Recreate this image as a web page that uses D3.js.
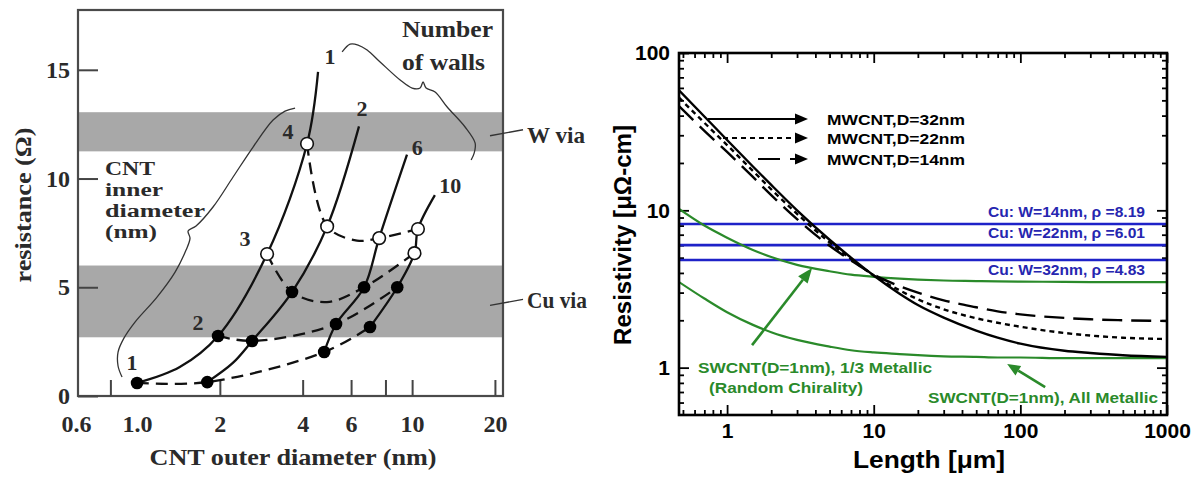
<!DOCTYPE html>
<html><head><meta charset="utf-8">
<script src="https://cdn.jsdelivr.net/npm/d3@7"></script>
<style>body{margin:0;background:#fff}</style>
</head><body><svg id="c" width="1200" height="477"></svg>
<script>
// ================= LEFT PANEL DATA (x: CNT outer diameter nm, y: resistance Ohm) =================
const leftYTicks = [0, 5, 10, 15];
const leftXLabelVals = [0.6, 1.0, 2, 4, 6, 10, 20];
const leftXLabelText = ["0.6", "1.0", "2", "4", "6", "10", "20"];
const leftXTickMarks = [0.8, 2, 4, 6, 8, 10, 20];
const bandW = [11.25, 13.05];
const bandCu = [2.7, 6.0];
// solid curves: constant number of walls
const wall1 = [[1.0,0.6],[1.43,1.33],[1.97,2.76],[2.97,6.53],[4.15,11.6],[4.55,14.9]];
const wall2 = [[1.8,0.64],[2.23,1.52],[2.62,2.53],[3.66,4.78],[4.91,7.8],[6.41,12.4]];
const wall6 = [[4.79,2.02],[5.29,3.31],[6.69,5.0],[7.59,7.26],[9.58,11.1]];
const wall10 = [[7.03,3.17],[8.83,5.0],[10.2,6.57],[10.5,7.68],[12.1,9.24]];
// dashed curves: constant inner diameter
const inner1 = [[1.0,0.6],[1.8,0.64],[4.79,2.02],[7.03,3.17]];
const inner2 = [[1.97,2.76],[2.62,2.53],[5.29,3.31],[8.83,5.0]];
const inner3 = [[2.97,6.53],[3.66,4.78],[4.9,4.32],[6.69,5.0],[10.2,6.57]];
const inner4 = [[4.15,11.6],[4.91,7.8],[6.3,7.15],[7.59,7.26],[10.5,7.68]];
const filledPts = [[1.0,0.6],[1.97,2.76],[1.8,0.64],[2.62,2.53],[3.66,4.78],[4.79,2.02],[5.29,3.31],[6.69,5.0],[7.03,3.17],[8.83,5.0]];
const openPts = [[2.97,6.53],[4.15,11.6],[4.91,7.8],[7.59,7.26],[10.2,6.57],[10.5,7.68]];
const wallLabels = [["1",5.03,15.59],["2",6.58,13.24],["6",10.43,11.45],["10",13.75,9.70]];
const innerLabels = [["1",0.959,1.56],["2",1.666,3.36],["3",2.47,7.26],["4",3.54,12.14]];
const braceInner = [[0.882,0.87],[0.853,1.38],[0.853,2.02],[0.897,2.67],[0.983,3.40],[1.182,4.55],[1.375,5.70],[1.507,6.71],[1.558,7.26],[1.533,7.59],[1.639,7.82],[1.889,8.69],[2.234,10.07],[2.641,11.45],[3.123,12.69],[3.452,13.10],[3.754,13.24]];
const braceWalls = [[5.566,15.82],[5.951,16.18],[6.364,16.14],[6.862,15.91],[7.65,15.36],[9.046,14.53],[10.0,14.16],[10.69,14.16],[10.96,14.44],[11.24,14.16],[12.12,13.98],[13.41,13.29],[15.58,12.37],[16.95,11.63],[16.81,11.17],[16.39,10.85]];

// ================= RIGHT PANEL DATA (x: length um, y: resistivity uOhm-cm) =================
const lengthTicks = [1, 10, 100, 1000];
const lengthMinor = [0.5,0.6,0.7,0.8,0.9,2,3,4,5,6,7,8,9,20,30,40,50,60,70,80,90,200,300,400,500,600,700,800,900];
const rhoTicks = [1, 10, 100];
const rhoMinor = [0.6,0.7,0.8,0.9,2,3,4,5,6,7,8,9,20,30,40,50,60,70,80,90];
const lengths = [0.47,0.7,1,1.5,2,3,5,7,10,15,20,30,50,70,100,200,300,500,1000];
const mwcnt32 = [58,39.5,28,19,14.5,10,6.5,5.0,3.85,2.95,2.5,2.08,1.72,1.55,1.42,1.28,1.24,1.2,1.17];
const mwcnt22 = [52,36,26,17.8,13.6,9.5,6.25,4.9,3.85,3.1,2.72,2.35,2.06,1.93,1.82,1.66,1.6,1.55,1.52];
const mwcnt14 = [46,32,23.5,16.3,12.5,8.8,5.95,4.8,3.9,3.3,3.0,2.68,2.42,2.28,2.18,2.07,2.03,2.0,1.98];
const swcntThird = [10.2,8.0,6.7,5.6,5.05,4.5,4.1,3.9,3.78,3.68,3.63,3.58,3.55,3.53,3.52,3.51,3.5,3.5,3.5];
const swcntAll = [3.5,2.75,2.25,1.87,1.68,1.5,1.36,1.29,1.25,1.22,1.2,1.18,1.17,1.16,1.16,1.15,1.15,1.15,1.15];
const cuRho = [8.19, 6.01, 4.83];
const cuLabels = ["Cu: W=14nm, \u03C1 =8.19", "Cu: W=22nm, \u03C1 =6.01", "Cu: W=32nm, \u03C1 =4.83"];
const mwLabels = ["MWCNT,D=32nm", "MWCNT,D=22nm", "MWCNT,D=14nm"];
const arrowThird = [[1.48,1.39],[3.8,4.3]];
const arrowAll = [[147.6,0.753],[81.3,1.055]];

// ================= DRAWING =================
const svg = d3.select("#c");
const SERIF = "'Liberation Serif','Times New Roman',serif";
const SANS = "'Liberation Sans',Arial,Helvetica,sans-serif";
function txt(g, s, x, y, o) {
  const t = g.append("text").attr("x", x).attr("y", y).text(s)
    .attr("font-family", o.family).attr("font-size", o.size)
    .attr("font-weight", o.weight || "bold").attr("fill", o.fill || "#000")
    .attr("text-anchor", o.anchor || "start");
  if (o.len) t.attr("textLength", o.len).attr("lengthAdjust", "spacingAndGlyphs");
  if (o.rot) t.attr("transform", `rotate(${o.rot},${x},${y})`);
  if (o.db) t.attr("dominant-baseline", o.db);
  return t;
}

// ---------- left ----------
const xL = d3.scaleLog().domain([0.61, 21.4]).range([78, 503]);
const yL = d3.scaleLinear().domain([0, 17.75]).range([396, 10]);
const gL = svg.append("g");
const LC = "#2a2a2a";
[bandW, bandCu].forEach(b => {
  gL.append("rect").attr("x", xL.range()[0]).attr("width", xL.range()[1] - xL.range()[0])
    .attr("y", yL(b[1])).attr("height", yL(b[0]) - yL(b[1])).attr("fill", "#a8a8a8");
});
gL.append("rect").attr("x", xL.range()[0]).attr("y", yL.range()[1])
  .attr("width", xL.range()[1] - xL.range()[0]).attr("height", yL.range()[0] - yL.range()[1])
  .attr("fill", "none").attr("stroke", "#4a4a4a").attr("stroke-width", 2.2);

const yAxL = gL.append("g").attr("transform", `translate(${xL.range()[0]},0)`)
  .call(d3.axisLeft(yL).tickValues(leftYTicks).tickSize(-20).tickSizeOuter(0).tickPadding(8));
yAxL.select(".domain").remove();
yAxL.attr("color", "#444").attr("font-family", SERIF).attr("font-size", 24).attr("font-weight", "bold");
yAxL.selectAll("line").attr("stroke-width", 2);
yAxL.selectAll("text").attr("fill", LC);

const xAxL = gL.append("g").attr("transform", `translate(0,${yL.range()[0]})`)
  .call(d3.axisBottom(xL).tickValues(leftXTickMarks).tickSize(-16).tickSizeOuter(0).tickFormat(""));
xAxL.select(".domain").remove();
xAxL.attr("color", "#444").selectAll("line").attr("stroke-width", 2);
const xLabL = gL.append("g").attr("transform", `translate(0,${yL.range()[0]})`)
  .call(d3.axisBottom(xL).tickValues(leftXLabelVals).tickSize(0).tickPadding(19)
    .tickFormat((d, i) => leftXLabelText[i]));
xLabL.select(".domain").remove();
xLabL.attr("font-family", SERIF).attr("font-size", 24).attr("font-weight", "bold");
xLabL.selectAll("text").attr("fill", LC);

const lineL = d3.line().x(d => xL(d[0])).y(d => yL(d[1]));
[inner1, inner2, inner3, inner4].forEach(d => {
  gL.append("path").datum(d).attr("d", lineL.curve(d3.curveCatmullRom.alpha(0.5)))
    .attr("fill", "none").attr("stroke", "#111").attr("stroke-width", 2.3).attr("stroke-dasharray", "12,7");
});
[wall1, wall2, wall6, wall10].forEach(d => {
  gL.append("path").datum(d).attr("d", lineL.curve(d3.curveCatmullRom.alpha(0.5)))
    .attr("fill", "none").attr("stroke", "#111").attr("stroke-width", 2.3);
});
[braceInner, braceWalls].forEach(d => {
  gL.append("path").datum(d).attr("d", lineL.curve(d3.curveCatmullRom.alpha(0.5)))
    .attr("fill", "none").attr("stroke", "#333").attr("stroke-width", 1.3);
});
gL.selectAll("circle.f").data(filledPts).join("circle").attr("class", "f")
  .attr("cx", d => xL(d[0])).attr("cy", d => yL(d[1])).attr("r", 6.3).attr("fill", "#000");
gL.selectAll("circle.o").data(openPts).join("circle").attr("class", "o")
  .attr("cx", d => xL(d[0])).attr("cy", d => yL(d[1])).attr("r", 6.3)
  .attr("fill", "#fff").attr("stroke", "#111").attr("stroke-width", 1.6);
wallLabels.concat(innerLabels).forEach(d => {
  txt(gL, d[0], xL(d[1]), yL(d[2]), {family: SERIF, size: 22, anchor: "middle", db: "central", fill: LC});
});
txt(gL, "CNT outer diameter (nm)", 293, 465, {family: SERIF, size: 24, anchor: "middle", len: 287, fill: LC});
txt(gL, "resistance (\u03A9)", 31, 205, {family: SERIF, size: 24, anchor: "middle", len: 155, rot: -90, fill: LC});
txt(gL, "Number", 402, 37, {family: SERIF, size: 24, len: 91, fill: LC});
txt(gL, "of walls", 402, 70, {family: SERIF, size: 24, len: 83, fill: LC});
txt(gL, "CNT", 105, 175, {family: SERIF, size: 18.5, len: 50, fill: LC});
txt(gL, "inner", 105, 196, {family: SERIF, size: 18.5, len: 58, fill: LC});
txt(gL, "diameter", 105, 217, {family: SERIF, size: 18.5, len: 100, fill: LC});
txt(gL, "(nm)", 105, 238, {family: SERIF, size: 18.5, len: 52, fill: LC});
txt(gL, "W via", 527, 143, {family: SERIF, size: 23, len: 58, fill: LC});
txt(gL, "Cu via", 527, 308, {family: SERIF, size: 23, len: 60, fill: LC});
// leader lines for W via / Cu via (anchored at band centers)
[bandW, bandCu].forEach(b => {
  const yc = yL((b[0] + b[1]) / 2);
  gL.append("line").attr("x1", xL.range()[1] - 13).attr("y1", yc + 4).attr("x2", xL.range()[1] + 20).attr("y2", yc - 2)
    .attr("stroke", "#333").attr("stroke-width", 1.4);
});

// ---------- right ----------
const xR = d3.scaleLog().domain([0.47, 1000]).range([679, 1167]);
const yR = d3.scaleLog().domain([0.5, 100]).range([415, 53]);
const gR = svg.append("g");
const X0 = xR.range()[0], X1 = xR.range()[1], Y0 = yR.range()[0], Y1 = yR.range()[1];

gR.append("defs").append("clipPath").attr("id", "clipR").append("rect")
  .attr("x", X0).attr("y", Y1).attr("width", X1 - X0).attr("height", Y0 - Y1);

function axisSet(axisGen, scale, vals, size, tr, labels) {
  const a = gR.append("g").attr("transform", tr)
    .call(axisGen(scale).tickValues(vals).tickSize(-size).tickSizeOuter(0).tickPadding(labels ? 9 : 0)
      .tickFormat(labels ? d3.format("d") : ""));
  a.select(".domain").remove();
  a.attr("color", "#000").attr("font-family", SANS).attr("font-size", 21).attr("font-weight", "bold");
  a.selectAll("line").attr("stroke-width", 1.8);
  return a;
}
const lb = axisSet(d3.axisBottom, xR, lengthTicks, 10, `translate(0,${Y0})`, true);
lb.selectAll("text").attr("dy", "0.71em").attr("y", 8);
axisSet(d3.axisBottom, xR, lengthMinor, 5, `translate(0,${Y0})`, false);
axisSet(d3.axisTop, xR, lengthTicks, 10, `translate(0,${Y1})`, false);
axisSet(d3.axisTop, xR, lengthMinor, 5, `translate(0,${Y1})`, false);
axisSet(d3.axisLeft, yR, rhoTicks, 10, `translate(${X0},0)`, true);
axisSet(d3.axisLeft, yR, rhoMinor, 5, `translate(${X0},0)`, false);
axisSet(d3.axisRight, yR, rhoTicks, 10, `translate(${X1},0)`, false);
axisSet(d3.axisRight, yR, rhoMinor, 5, `translate(${X1},0)`, false);

const plot = gR.append("g").attr("clip-path", "url(#clipR)");
const BLUE = "#1e22c8", GREEN = "#2a8a2a";
cuRho.forEach(v => {
  plot.append("line").attr("x1", X0).attr("x2", X1).attr("y1", yR(v)).attr("y2", yR(v))
    .attr("stroke", BLUE).attr("stroke-width", 2.6);
});
const lineR = d3.line().x(d => xR(d[0])).y(d => yR(d[1])).curve(d3.curveMonotoneX);
const zip = vals => lengths.map((l, i) => [l, vals[i]]);
[swcntThird, swcntAll].forEach(v => {
  plot.append("path").datum(zip(v)).attr("d", lineR).attr("fill", "none").attr("stroke", GREEN).attr("stroke-width", 2.2);
});
[[mwcnt14, "20,9"], [mwcnt22, "5,4"], [mwcnt32, null]].forEach(([v, dash]) => {
  const p = plot.append("path").datum(zip(v)).attr("d", lineR).attr("fill", "none").attr("stroke", "#000").attr("stroke-width", 2.4);
  if (dash) p.attr("stroke-dasharray", dash);
});
gR.append("rect").attr("x", X0).attr("y", Y1).attr("width", X1 - X0).attr("height", Y0 - Y1)
  .attr("fill", "none").attr("stroke", "#000").attr("stroke-width", 2.6);

function arrow(g, x1, y1, x2, y2, color, dash, hl, hw, sw) {
  const ang = Math.atan2(y2 - y1, x2 - x1);
  const bx = x2 - hl * Math.cos(ang), by = y2 - hl * Math.sin(ang);
  const l = g.append("line").attr("x1", x1).attr("y1", y1).attr("x2", bx).attr("y2", by)
    .attr("stroke", color).attr("stroke-width", sw);
  if (dash) l.attr("stroke-dasharray", dash);
  const px = -Math.sin(ang) * hw, py = Math.cos(ang) * hw;
  g.append("path").attr("d", `M${x2},${y2}L${bx + px},${by + py}L${bx - px},${by - py}Z`).attr("fill", color);
}
// MWCNT legend
const legY = [119, 138, 159], legX0 = [708, 723, 758], legDash = [null, "5,4", "22,10"];
legY.forEach((y, i) => {
  arrow(gR, legX0[i], y, 808, y, "#000", legDash[i], 13, 5.5, 2.2);
  txt(gR, mwLabels[i], 827, y + 6, {family: SANS, size: 15, len: 138});
});
// Cu labels
const cuBase = [217, 238, 275];
cuLabels.forEach((s, i) => txt(gR, s, 1145, cuBase[i], {family: SANS, size: 14, anchor: "end", len: 157, fill: "#2626b0"}));
// SWCNT annotations
arrow(gR, xR(arrowThird[0][0]), yR(arrowThird[0][1]), xR(arrowThird[1][0]), yR(arrowThird[1][1]), GREEN, null, 15, 6, 2.6);
arrow(gR, xR(arrowAll[0][0]), yR(arrowAll[0][1]), xR(arrowAll[1][0]), yR(arrowAll[1][1]), GREEN, null, 13, 5.5, 2.6);
txt(gR, "SWCNT(D=1nm), 1/3 Metallic", 698, 373, {family: SANS, size: 15, len: 234, fill: GREEN});
txt(gR, "(Random Chirality)", 709, 393, {family: SANS, size: 15, len: 154, fill: GREEN});
txt(gR, "SWCNT(D=1nm), All Metallic", 928, 403, {family: SANS, size: 15, len: 230, fill: GREEN});
// titles
txt(gR, "Length [\u03BCm]", 929, 468, {family: SANS, size: 24, anchor: "middle", len: 152});
txt(gR, "Resistivity [\u03BC\u03A9-cm]", 631, 235, {family: SANS, size: 24, anchor: "middle", len: 220, rot: -90});
</script></body></html>
